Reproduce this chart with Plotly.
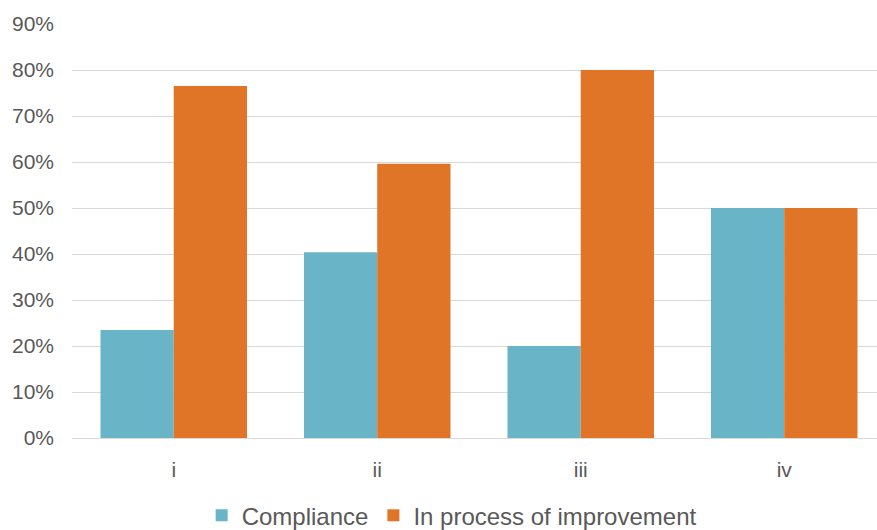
import plotly.graph_objects as go

categories = ["i", "ii", "iii", "iv"]
compliance = [0.235, 0.404, 0.20, 0.50]
improvement = [0.765, 0.596, 0.80, 0.50]
y_ticks = [0, 0.1, 0.2, 0.3, 0.4, 0.5, 0.6, 0.7, 0.8, 0.9]
y_labels = ["0%", "10%", "20%", "30%", "40%", "50%", "60%", "70%", "80%", "90%"]

fig = go.Figure()
fig.add_trace(go.Bar(name="Compliance", x=categories, y=compliance,
                     marker=dict(color="#6AB4C8", line=dict(width=0))))
fig.add_trace(go.Bar(name="In process of improvement", x=categories, y=improvement,
                     marker=dict(color="#E07427", line=dict(width=0))))

fig.update_layout(
    width=877, height=530,
    margin=dict(l=72, r=0, t=24, b=92, autoexpand=False),
    paper_bgcolor="white", plot_bgcolor="white",
    barmode="group", bargap=0.28, bargroupgap=0,
    font=dict(family="Liberation Sans, Arial, sans-serif", color="#595959", size=21),
    showlegend=True,
    legend=dict(orientation="h", xref="container", x=0.515, xanchor="center", yref="container",
                y=0.027, yanchor="middle", entrywidth=0,
                font=dict(size=24, color="#595959"), itemwidth=30, traceorder="normal"),
)
fig.update_xaxes(range=[-0.5, 3.456], showline=True, linecolor="#D9D9D9", linewidth=1,
                 ticks="", tickfont=dict(size=21), showgrid=False, ticklabelstandoff=13)
fig.update_yaxes(range=[0, 0.9], tickvals=y_ticks, ticktext=y_labels,
                 showgrid=True, gridcolor="#D9D9D9", gridwidth=1, zeroline=False,
                 showline=False, ticks="", ticklabelstandoff=17, tickfont=dict(size=21))

fig.write_html("out.html")
